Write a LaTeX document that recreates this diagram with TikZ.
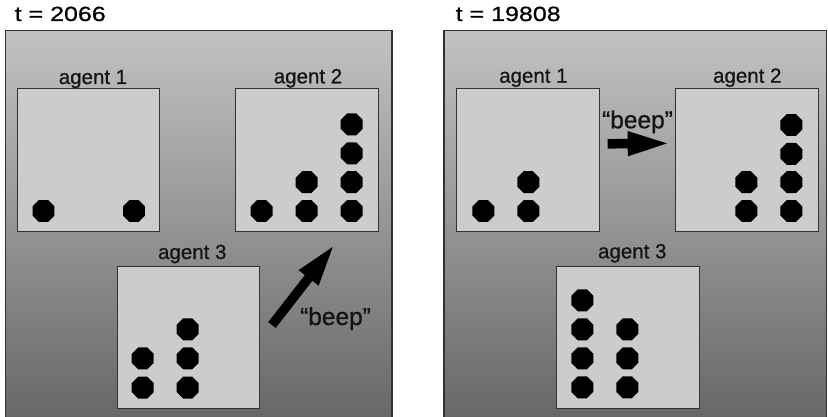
\documentclass[tikz,border=0pt]{standalone}
\usepackage{fontspec}
\setmainfont{Liberation Sans}
\newfontfamily\heavysans[FakeBold=0.7]{Liberation Sans}
\usetikzlibrary{shapes.geometric,arrows.meta}

\definecolor{panelTop}{RGB}{194,194,194}
\definecolor{panelBottom}{RGB}{102,102,102}
\definecolor{boxFill}{RGB}{204,204,204}
\definecolor{edgeGray}{RGB}{50,50,50}
\definecolor{inkGray}{RGB}{20,20,20}

\begin{document}
\begin{tikzpicture}[x=1pt,y=-1pt,
  panel/.style={draw=edgeGray, line width=1.5pt, top color=panelTop, bottom color=panelBottom},
  agentbox/.style={draw=edgeGray, line width=1pt, fill=boxFill, minimum width=142.5pt,
    minimum height=142.5pt, inner sep=0pt, anchor=north west},
  agentlabel/.style={font=\heavysans\fontsize{20.5}{21}\selectfont, text=inkGray, anchor=base, inner sep=0pt},
  token/.style={regular polygon, regular polygon sides=8, fill=black, draw=none,
    minimum size=23.8pt, inner sep=0pt},
  beeparrow/.style={line width=9.5pt, black, -{Triangle[length=43pt,width=22pt]}},
  beeplabel/.style={font=\heavysans\fontsize{24.5}{25}\selectfont, text=inkGray, anchor=base, inner sep=0pt},
  timelabel/.style={font=\heavysans\fontsize{20.5}{21}\selectfont, text=black, anchor=base west, inner sep=0pt}
]
\useasboundingbox (0,0) rectangle (828,417);
\clip (0,0) rectangle (828,417);

% time stamps
\node[timelabel] (tleft) at (14.5,21) {\scalebox{1.22}[1]{t = 2066}};
\node[timelabel] (tright) at (455.5,21) {\scalebox{1.22}[1]{t = 19808}};

% the two snapshots
\draw[panel] (5.5,30.5) rectangle (392,425);
\draw[panel] (444,30.5) rectangle (826.5,425);

% ---- first snapshot ----
\node[agentbox] (L1) at (16.7,88.3) {};
\node[agentbox] (L2) at (235.2,88.3) {};
\node[agentbox] (L3) at (116.7,265.5) {};
\node[agentlabel] (L1t) at (93,84) {agent 1};
\node[agentlabel] (L2t) at (308,83.3) {agent 2};
\node[agentlabel] (L3t) at (192.3,259) {agent 3};

\foreach \px/\py/\nm in {43.5/211/L1a, 134/211/L1b,
    261.7/211/L2a, 306.7/211/L2b, 306.7/182.2/L2c, 351.7/211/L2d,
    351.7/182.2/L2e, 351.7/153.3/L2f, 351.7/124.4/L2g,
    142.7/387.6/L3a, 142.7/358.4/L3b, 187.7/387.6/L3c, 187.7/358.4/L3d,
    187.7/329.3/L3e}
  \node[token] (\nm) at (\px,\py) {};

\coordinate (Lfrom) at (272,325);
\coordinate (Lto) at (335,244);
\draw[beeparrow] (Lfrom) -- (Lto);
\node[beeplabel] (Lbeep) at (335.5,325) {“beep”};

% ---- second snapshot ----
\node[agentbox] (R1) at (456.3,88.3) {};
\node[agentbox] (R2) at (675,88.3) {};
\node[agentbox] (R3) at (556.3,265.5) {};
\node[agentlabel] (R1t) at (533.4,82.7) {agent 1};
\node[agentlabel] (R2t) at (747.3,82.7) {agent 2};
\node[agentlabel] (R3t) at (632.3,258.3) {agent 3};

\foreach \px/\py/\nm in {483.3/211/R1a, 528.3/211/R1b, 528.3/182.2/R1c,
    746.3/211/R2a, 746.3/182.2/R2b, 791.3/211/R2c, 791.3/182.2/R2d,
    791.3/153.8/R2e, 791.3/125/R2f,
    582.3/387.3/R3a, 582.3/358.3/R3b, 582.3/329.3/R3c, 582.3/300.3/R3d,
    627.3/387.3/R3e, 627.3/358.3/R3f, 627.3/329.3/R3g}
  \node[token] (\nm) at (\px,\py) {};

\coordinate (Rfrom) at (607.7,143.8);
\coordinate (Rto) at (670.7,143.4);
\draw[beeparrow] (Rfrom) -- (Rto);
\node[beeplabel] (Rbeep) at (637.5,128.3) {“beep”};
\end{tikzpicture}
\end{document}
